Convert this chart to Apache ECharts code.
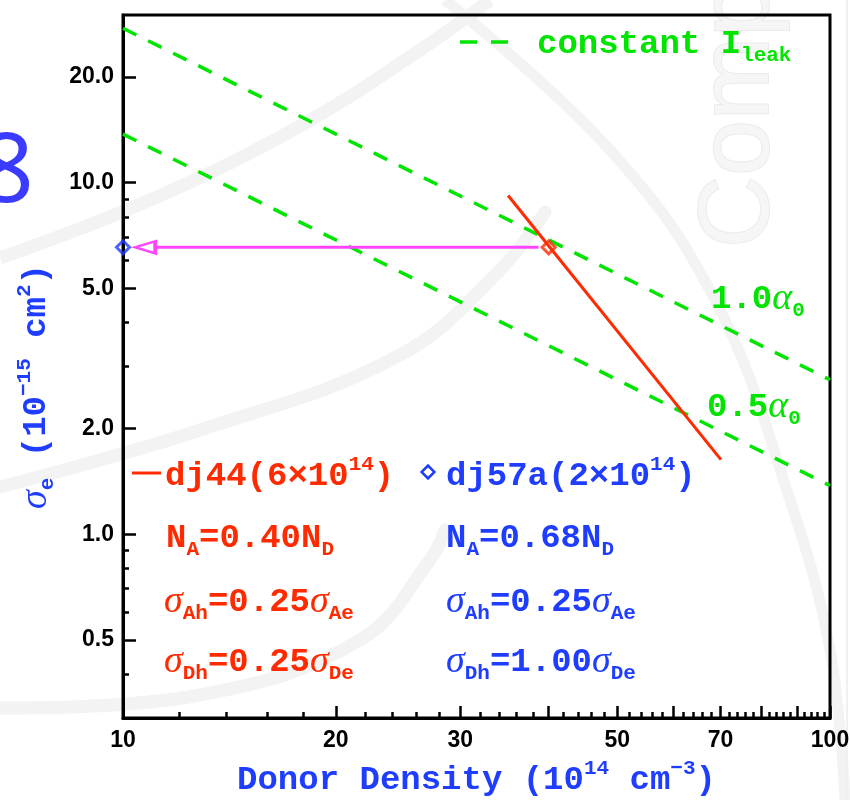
<!DOCTYPE html>
<html><head><meta charset="utf-8">
<script src="https://cdn.jsdelivr.net/npm/echarts@6/dist/echarts.min.js"></script>
<style>html,body{margin:0;padding:0;background:#fff}#c{width:850px;height:800px}</style>
</head><body><div id="c"></div>
<script>
// ---- tick data ----
const xTickMajor = [10, 20, 30, 40, 50, 60, 70, 80, 90, 100];
const xTickMinor = [12, 14, 16, 18, 22, 24, 26, 28, 32, 34, 36, 38, 42, 44, 46, 48, 52, 54, 56, 58,
                    62, 64, 66, 68, 72, 74, 76, 78, 82, 84, 86, 88, 92, 94, 96, 98];
const xTickLabels = [10, 20, 30, 50, 70, 100];
const yTickMajor = [0.5, 1, 2, 5, 10, 20];
const yTickLabelText = ['0.5', '1.0', '2.0', '5.0', '10.0', '20.0'];
const yTickMinor = [0.4, 0.6, 0.7, 0.8, 0.9, 3, 4, 6, 7, 8, 9];

// ---- series data ----
const leakAlpha10 = [[10, 27.5], [100, 2.75]];     // constant I_leak, 1.0 alpha0
const leakAlpha05 = [[10, 13.75], [100, 1.375]];   // constant I_leak, 0.5 alpha0
const dj44Line = [[35.05, 9.2], [70.1, 1.63]];
const dj44Point = [[40, 6.55]];
const dj57aPoint = [[10, 6.55]];
const arrowFrom = [38.7, 6.55];
const arrowTo = [10.75, 6.55];

const GREEN = '#00e400', RED = '#ff2a00', BLUE = '#1f3dff', MAG = '#ff44ff';
const MONO = 'Liberation Mono';

function richFor(color, key) {
  const c = {}; c[key] = color;
  return {
    m:   Object.assign({ fontFamily: MONO, fontWeight: 'bold', fontSize: 34, lineHeight: 44 }, c),
    sup: Object.assign({ fontFamily: MONO, fontWeight: 'bold', fontSize: 21, lineHeight: 22, verticalAlign: 'top' }, c),
    sub: Object.assign({ fontFamily: MONO, fontWeight: 'bold', fontSize: 21, lineHeight: 19, verticalAlign: 'bottom' }, c),
    g:   Object.assign({ fontFamily: 'Liberation Serif', fontStyle: 'italic', fontSize: 38, lineHeight: 44 }, c)
  };
}
function txt(x, y, text, color) {
  return {
    type: 'text', z: 50,
    style: { x, y, text, fill: color, rich: richFor(color, 'fill'), align: 'left', verticalAlign: 'middle' }
  };
}

const chart = echarts.init(document.getElementById('c'), null, { renderer: 'canvas' });

const axisFont = { fontFamily: 'Liberation Sans', fontWeight: 'bold', fontSize: 23, color: '#000' };
const WM = '#f3f3f3';

const option = {
  backgroundColor: '#fff',
  animation: false,
  grid: { left: 123, right: 20, top: 15, bottom: 82, show: true, borderColor: '#000', borderWidth: 3,
          outerBoundsMode: 'none', containLabel: false },
  xAxis: [
    {
      type: 'log', min: 10, max: 100, position: 'bottom',
      axisLine: { show: true, lineStyle: { color: '#000', width: 3 } },
      axisTick: { show: true, inside: true, length: 12, customValues: xTickMajor, lineStyle: { color: '#000', width: 2.5 } },
      axisLabel: { show: true, margin: 11, customValues: xTickLabels, formatter: v => String(Math.round(v)), ...axisFont },
      splitLine: { show: false }, minorTick: { show: false },
      name: '{m|Donor Density (10}{sup|14}{m| cm}{sup|−3}{m|)}',
      nameLocation: 'middle', nameGap: 40,
      nameTextStyle: { rich: richFor(BLUE, 'color') }
    },
    {
      type: 'log', min: 10, max: 100, position: 'bottom',
      axisLine: { show: false },
      axisTick: { show: true, inside: true, length: 6, customValues: xTickMinor, lineStyle: { color: '#000', width: 2.5 } },
      axisLabel: { show: false }, splitLine: { show: false }
    }
  ],
  yAxis: [
    {
      type: 'log', min: 0.3, max: 30, position: 'left',
      axisLine: { show: true, lineStyle: { color: '#000', width: 3 } },
      axisTick: { show: true, inside: true, length: 13, customValues: yTickMajor, lineStyle: { color: '#000', width: 2.5 } },
      axisLabel: {
        show: true, margin: 9, customValues: yTickMajor, ...axisFont,
        formatter: v => {
          let best = 0, bd = Infinity;
          yTickMajor.forEach((t, i) => { const d = Math.abs(Math.log(t) - Math.log(v)); if (d < bd) { bd = d; best = i; } });
          return yTickLabelText[best];
        }
      },
      splitLine: { show: false }, minorTick: { show: false },
      name: '{g|σ}{sub|e}{m| (10}{sup|−15}{m| cm}{sup|2}{m|)}',
      nameLocation: 'middle', nameGap: 64, nameRotate: 90,
      nameTextStyle: { rich: richFor(BLUE, 'color'), padding: [0, 40, 0, 0] }
    },
    {
      type: 'log', min: 0.3, max: 30, position: 'left',
      axisLine: { show: false },
      axisTick: { show: true, inside: true, length: 6, customValues: yTickMinor, lineStyle: { color: '#000', width: 2.5 } },
      axisLabel: { show: false }, splitLine: { show: false }
    }
  ],
  series: [
    { type: 'line', name: 'leak 1.0', data: leakAlpha10, symbol: 'none', z: 3,
      lineStyle: { color: GREEN, width: 3.5, type: [15, 13] } },
    { type: 'line', name: 'leak 0.5', data: leakAlpha05, symbol: 'none', z: 3,
      lineStyle: { color: GREEN, width: 3.5, type: [15, 13] } },
    { type: 'line', name: 'dj44', data: dj44Line, symbol: 'none', z: 4,
      lineStyle: { color: RED, width: 3 } },
    { type: 'line', name: 'arrow', z: 5, symbol: 'triangle', symbolSize: [12, 20], symbolRotate: 90, showSymbol: true,
      lineStyle: { color: MAG, width: 3 },
      itemStyle: { color: '#fff', borderColor: MAG, borderWidth: 3 },
      data: [ { value: arrowFrom, symbol: 'none' }, { value: arrowTo } ] },
    { type: 'scatter', name: 'dj44 pt', data: dj44Point, symbol: 'diamond', symbolSize: 13, z: 6,
      itemStyle: { color: 'rgba(255,255,255,0)', borderColor: RED, borderWidth: 3 } },
    { type: 'scatter', name: 'dj57a pt', data: dj57aPoint, symbol: 'diamond', symbolSize: 13, z: 6,
      itemStyle: { color: 'rgba(255,255,255,0)', borderColor: BLUE, borderWidth: 3 } }
  ],
  graphic: [
    // faint background watermark shapes
    { type: 'polyline', z: -10, silent: true, shape: { points: [[0, 258], [150, 200], [300, 126], [420, 50], [490, 0]], smooth: 0.4 },
      style: { stroke: WM, lineWidth: 13, fill: null } },
    { type: 'polyline', z: -10, silent: true, shape: { points: [[0, 487], [200, 430], [400, 355], [500, 270], [545, 212]], smooth: 0.4 },
      style: { stroke: WM, lineWidth: 13, fill: null, lineCap: 'round' } },
    { type: 'polyline', z: -10, silent: true, shape: { points: [[0, 708], [200, 695], [360, 640], [430, 560], [445, 530]], smooth: 0.4 },
      style: { stroke: WM, lineWidth: 13, fill: null, lineCap: 'round' } },
    { type: 'polyline', z: -10, silent: true, shape: { points: [[445, 0], [610, 150], [715, 300], [790, 500], [830, 650], [845, 800]], smooth: 0.4 },
      style: { stroke: WM, lineWidth: 11, fill: null } },
    { type: 'line', z: -10, silent: true, shape: { x1: 847, y1: 0, x2: 847, y2: 800 }, style: { stroke: '#f0f0f0', lineWidth: 2 } },
    { type: 'text', z: -9, silent: true, x: 790, y: 248, rotation: Math.PI / 2,
      style: { text: 'Compact', fontFamily: 'Liberation Sans', fontSize: 100, fill: '#f6f6f6', stroke: '#ebebeb', lineWidth: 2, align: 'left', verticalAlign: 'bottom' } },
    { type: 'text', z: -9, silent: true,
      style: { x: 34, y: 175, text: '8', fontFamily: 'Noto Sans', fontSize: 96, fill: '#3b3bff', align: 'right', verticalAlign: 'middle' } },

    // legend for constant I_leak
    { type: 'line', z: 50, shape: { x1: 460, y1: 42, x2: 477, y2: 42 }, style: { stroke: GREEN, lineWidth: 3.5 } },
    { type: 'line', z: 50, shape: { x1: 491, y1: 42, x2: 508, y2: 42 }, style: { stroke: GREEN, lineWidth: 3.5 } },
    txt(537, 44, '{m|constant I}{sub|leak}', GREEN),
    txt(711, 299, '{m|1.0}{g|α}{sub|0}', GREEN),
    txt(707, 407, '{m|0.5}{g|α}{sub|0}', GREEN),

    // dj44 (red)
    { type: 'line', z: 50, shape: { x1: 132, y1: 473, x2: 161, y2: 473 }, style: { stroke: RED, lineWidth: 3 } },
    txt(165, 476, '{m|dj44(6×10}{sup|14}{m|)}', RED),
    txt(166, 538, '{m|N}{sub|A}{m|=0.40N}{sub|D}', RED),
    txt(164, 602, '{g|σ}{sub|Ah}{m|=0.25}{g|σ}{sub|Ae}', RED),
    txt(164, 662, '{g|σ}{sub|Dh}{m|=0.25}{g|σ}{sub|De}', RED),

    // dj57a (blue)
    { type: 'rect', z: 50, x: 428, y: 472, rotation: Math.PI / 4, shape: { x: -4.5, y: -4.5, width: 9, height: 9 },
      style: { fill: null, stroke: BLUE, lineWidth: 2.5 } },
    txt(446, 476, '{m|dj57a(2×10}{sup|14}{m|)}', BLUE),
    txt(446, 538, '{m|N}{sub|A}{m|=0.68N}{sub|D}', BLUE),
    txt(446, 602, '{g|σ}{sub|Ah}{m|=0.25}{g|σ}{sub|Ae}', BLUE),
    txt(446, 662, '{g|σ}{sub|Dh}{m|=1.00}{g|σ}{sub|De}', BLUE)
  ]
};
chart.setOption(option);
</script>
</body></html>
